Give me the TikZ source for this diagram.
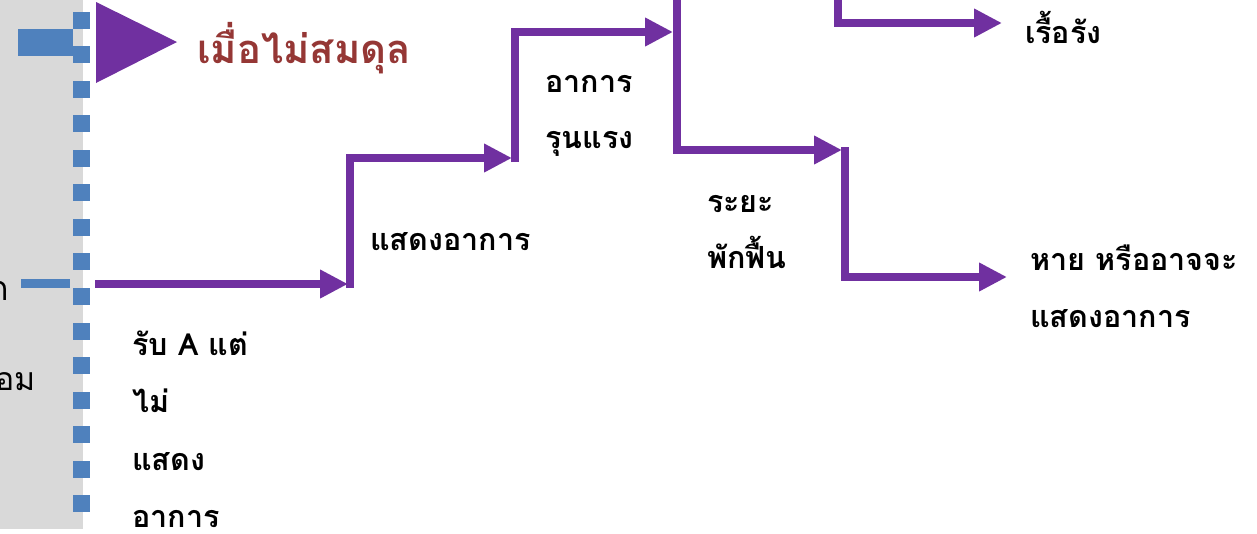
\documentclass[tikz,border=0pt]{standalone}
\usepackage{fontspec}
\newfontfamily\thai[Script=Thai]{Loma}
\usetikzlibrary{arrows.meta}
\definecolor{purp}{HTML}{7030A0}
\definecolor{blu}{HTML}{4F81BD}
\definecolor{grayback}{HTML}{D9D9D9}
\definecolor{redbrown}{HTML}{953735}
\tikzset{
  flow/.style={draw=purp, line width=7.5pt, line join=miter, -{Triangle[length=28pt,width=27pt]}},
  lbl/.style={anchor=base west, inner sep=0pt, font=\thai\bfseries\fontsize{30.5}{33}\selectfont, text=black},
  sq/.style={fill=blu, draw=none},
}
\begin{document}
\begin{tikzpicture}[x=1pt,y=-1pt]
\useasboundingbox (0,0) rectangle (1257,533);
\begin{scope}
\clip (0,0) rectangle (1257,533);
% gray panel
\fill[grayback] (0,-2) rectangle (83,529);
% clipped left texts
\node[anchor=base east, inner sep=0pt, font=\thai\fontsize{34}{36}\selectfont] (frag1) at (9,300) {ก};
\node[anchor=base east, inner sep=0pt, font=\thai\fontsize{32}{36}\selectfont] (frag2) at (36,390) {อม};
% blue dotted line of squares
\foreach \i in {0,...,14} {
  \fill[blu] (73,{20+34.57*\i-8.5}) rectangle (90,{20+34.57*\i+8.5});
}
% blue bars
\fill[blu] (18,29) rectangle (73,56);
\fill[blu] (21,279) rectangle (70,288);
% purple triangle
\fill[purp] (96,2) -- (96,83) -- (177,42) -- cycle;
\node[anchor=base west, inner sep=0pt, font=\thai\bfseries\fontsize{40}{44}\selectfont, text=redbrown] (title) at (197,63) {เมื่อไม่สมดุล};
% flow connectors
\coordinate (p0) at (95,284);
\coordinate (p1) at (348,284);
\coordinate (q0) at (350,288);
\coordinate (q1) at (512,158);
\coordinate (r0) at (515,162);
\coordinate (r1) at (673,32);
\coordinate (s0) at (677,-10);
\coordinate (s1) at (842,150);
\coordinate (t0) at (845,147);
\coordinate (t1) at (1007,277);
\coordinate (u0) at (838,-10);
\coordinate (u1) at (1002,23);
\draw[flow] (p0) -- (p1);
\draw[flow] (q0) |- (q1);
\draw[flow] (r0) |- (r1);
\draw[flow] (s0) |- (s1);
\draw[flow] (t0) |- (t1);
\draw[flow] (u0) |- (u1);
% labels
\node[lbl] (l1a) at (132,355) {รับ A แต่};
\node[lbl] (l1b) at (132,412) {ไม่};
\node[lbl] (l1c) at (132,470) {แสดง};
\node[lbl] (l1d) at (132,527) {อาการ};
\node[lbl] (l2) at (370,250) {แสดงอาการ};
\node[lbl] (l3a) at (545,92) {อาการ};
\node[lbl] (l3b) at (545,148) {รุนแรง};
\node[lbl] (l4a) at (707,212) {ระยะ};
\node[lbl] (l4b) at (707,268) {พักฟื้น};
\node[lbl] (l5) at (1025,43) {เรื้อรัง};
\node[lbl] (l6a) at (1030,270) {หาย หรืออาจจะ};
\node[lbl] (l6b) at (1030,327) {แสดงอาการ};
\end{scope}
\end{tikzpicture}
\end{document}
